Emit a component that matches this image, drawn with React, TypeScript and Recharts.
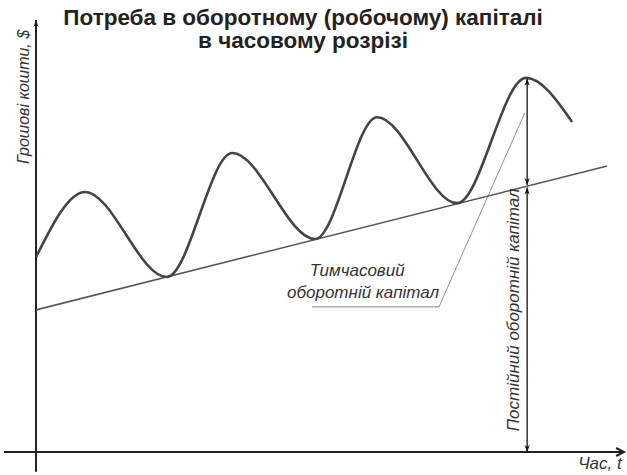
import { ComposedChart, Line, XAxis, YAxis, ReferenceLine, ReferenceDot } from 'recharts';

// час (умовні одиниці) і потреба в капіталі (умовні одиниці)
const timeT = [0, 8.4, 22.4, 33.6, 47.8, 58.4, 72.1, 83.9, 91.8];
const cashNeed = [45.1, 60.2, 40.5, 69.2, 49.3, 77.5, 57.6, 86.6, 76.4];

// постійний оборотній капітал — лінія тренду
const trendT = [0, 97.8];
const trendV = [32.9, 66.2];

// вертикальні стрілки у точці t = 84.1
const markT = 84.1;
const markPeak = 86.4;
const markTrend = 61.5;

const curveData = timeT.map((t, i) => ({ t, v: cashNeed[i] }));
const trendData = trendT.map((t, i) => ({ t, v: trendV[i] }));

const INK = '#333';

function head(x: number, y: number, fx: number, fy: number, filled: boolean, color: string, key: string) {
  // arrowhead with tip at (x,y), pointing away from (fx,fy)
  const dx = x - fx;
  const dy = y - fy;
  const len = Math.hypot(dx, dy) || 1;
  const ux = dx / len;
  const uy = dy / len;
  const L = filled ? 7 : 8;
  const W = filled ? 2.6 : 4;
  const bx = x - ux * L;
  const by = y - uy * L;
  const ax = bx - uy * W;
  const ay = by + ux * W;
  const cx = bx + uy * W;
  const cy = by - ux * W;
  if (filled) {
    return <polygon key={key} points={`${x},${y} ${ax},${ay} ${x - ux * 5},${y - uy * 5} ${cx},${cy}`} fill={color} />;
  }
  return <polyline key={key} points={`${ax},${ay} ${x},${y} ${cx},${cy}`} fill="none" stroke={color} strokeWidth={2} />;
}

const arrowShape = (start: boolean, end: boolean, filled: boolean, color: string, width: number) => (p: any) => {
  const { x1, y1, x2, y2 } = p;
  return (
    <g>
      <line x1={x1} y1={y1} x2={x2} y2={y2} stroke={color} strokeWidth={width} />
      {start && head(x1, y1, x2, y2, filled, color, 's')}
      {end && head(x2, y2, x1, y1, filled, color, 'e')}
    </g>
  );
};

const textShape = (label: string, anchor: string, rotate: boolean, size: number) => (p: any) => {
  const { cx, cy } = p;
  return (
    <text
      x={cx}
      y={cy}
      textAnchor={anchor}
      fill={INK}
      fontSize={size}
      fontStyle="italic"
      fontFamily="'Liberation Sans', Arial, sans-serif"
      transform={rotate ? `rotate(-90 ${cx} ${cy})` : undefined}
    >
      {label}
    </text>
  );
};

export default function App() {
  return (
    <div style={{ position: 'absolute', left: 0, top: 0, width: 627, height: 475, background: '#fff' }}>
      <ComposedChart width={627} height={475} margin={{ top: 20, right: 7, bottom: 23, left: 36 }}>
        <XAxis type="number" dataKey="t" domain={[0, 100]} hide allowDataOverflow />
        <YAxis type="number" domain={[0, 100]} hide allowDataOverflow />

        {/* осі */}
        <ReferenceLine segment={[{ x: 0, y: -4.6 }, { x: 0, y: 100 }]} ifOverflow="visible" shape={arrowShape(false, true, true, '#222', 2)} />
        <ReferenceLine segment={[{ x: -5.5, y: 0 }, { x: 100.7, y: 0 }]} ifOverflow="visible" shape={arrowShape(false, true, false, '#222', 2)} />

        <Line data={trendData} dataKey="v" type="linear" stroke="#555" strokeWidth={1.6} dot={false} isAnimationActive={false} />
        <Line data={curveData} dataKey="v" type="monotone" stroke="#444" strokeWidth={2.6} dot={false} isAnimationActive={false} />

        {/* стрілки */}
        <ReferenceLine segment={[{ x: markT, y: markPeak }, { x: markT, y: markTrend + 0.3 }]} ifOverflow="visible" shape={arrowShape(true, true, true, '#111', 1.3)} />
        <ReferenceLine segment={[{ x: markT, y: markTrend - 0.3 }, { x: markT, y: 0 }]} ifOverflow="visible" shape={arrowShape(true, true, true, '#111', 1.3)} />

        {/* виноска */}
        <ReferenceLine segment={[{ x: 47.3, y: 33.6 }, { x: 69.0, y: 33.6 }]} ifOverflow="visible" stroke="#666" strokeWidth={0.8} />
        <ReferenceLine segment={[{ x: 69.0, y: 33.6 }, { x: 83.7, y: 78.5 }]} ifOverflow="visible" stroke="#777" strokeWidth={0.8} />

        <ReferenceDot x={55.0} y={40.7} ifOverflow="visible" shape={textShape('Тимчасовий', 'middle', false, 17)} />
        <ReferenceDot x={56.0} y={35.6} ifOverflow="visible" shape={textShape('оборотній капітал', 'middle', false, 17)} />
        <ReferenceDot x={82.7} y={32.9} ifOverflow="visible" shape={textShape('Постійний оборотній капітал', 'middle', true, 17)} />
        <ReferenceDot x={-1.2} y={82.2} ifOverflow="visible" shape={textShape('Грошові кошти, $', 'middle', true, 16)} />
        <ReferenceDot x={100.3} y={-3.9} ifOverflow="visible" shape={textShape('Час, t', 'end', false, 17)} />
      </ComposedChart>
      <div
        style={{
          position: 'absolute',
          left: 0,
          top: 6,
          width: 606,
          textAlign: 'center',
          fontFamily: "'Liberation Sans', Arial, sans-serif",
          fontWeight: 'bold',
          fontSize: 22.5,
          lineHeight: '23px',
          color: '#222',
        }}
      >
        Потреба в оборотному (робочому) капіталі
        <br />
        в часовому розрізі
      </div>
    </div>
  );
}
